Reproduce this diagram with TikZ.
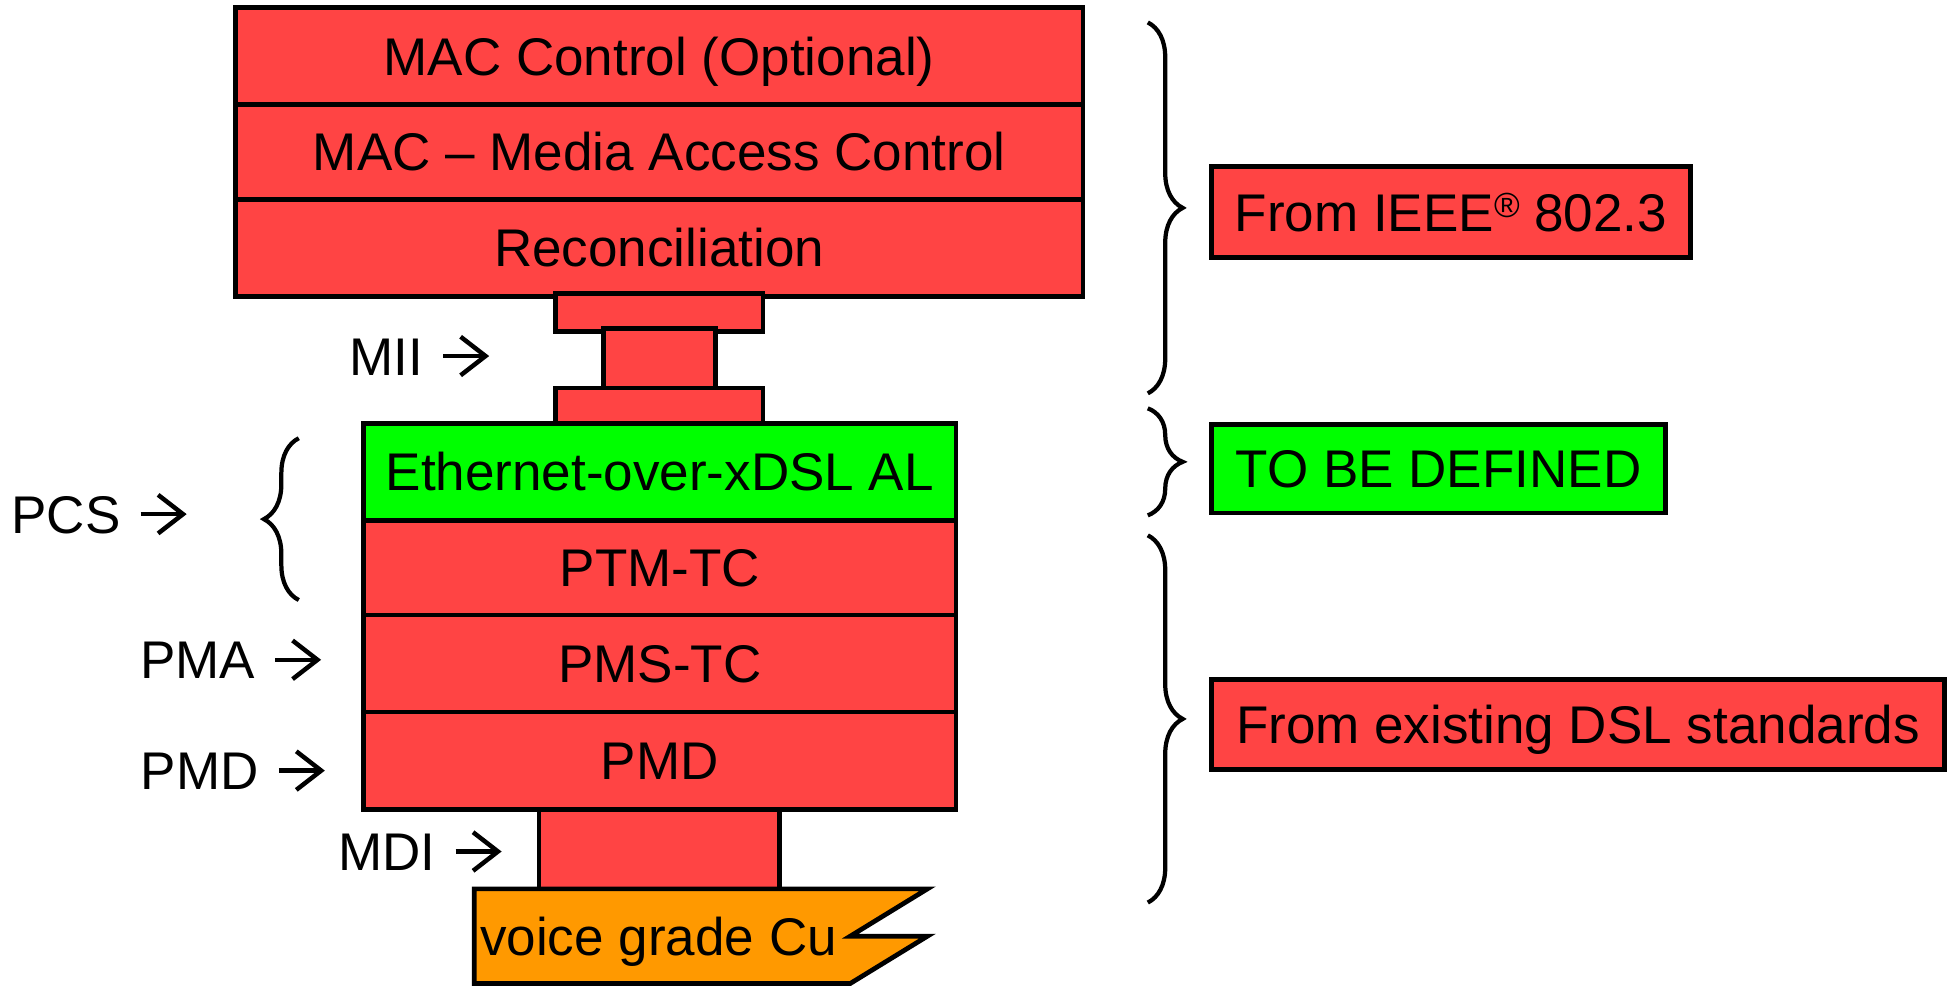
\documentclass[tikz,border=0pt]{standalone}
\usepackage{fontspec}
\setmainfont{Liberation Sans}
\usetikzlibrary{decorations.pathreplacing}
\definecolor{layerred}{RGB}{255,68,68}
\definecolor{layergreen}{RGB}{0,255,0}
\definecolor{copper}{RGB}{255,153,0}

\begin{document}
\begin{tikzpicture}[x=1pt,y=-1pt,
  every node/.style={font=\fontsize{42.6}{50}\selectfont, text height=30.5pt, text depth=0pt, inner sep=0pt},
  layer/.style={draw, line width=3.8pt, fill=layerred},
  newlayer/.style={layer, fill=layergreen},
  tag/.style={anchor=east},
  tagarrow/.style={line width=3.6pt, line cap=butt, line join=miter},
  bracket/.style={decorate, decoration={brace, amplitude=28pt}, line width=3.4pt}]
\useasboundingbox (0,0) rectangle (1568,792);

% IEEE 802.3 upper layers
\node[layer, minimum width=681pt, minimum height=78pt] (macctl) at (529.5,45) {MAC Control (Optional)};
\node[layer, minimum width=681pt, minimum height=76pt] (mac) at (529.5,122) {MAC -- Media Access Control};
\node[layer, minimum width=681pt, minimum height=78pt] (rs) at (529.5,199) {Reconciliation};

% MII connector
\node[layer, minimum width=167pt, minimum height=26pt] (miitop) at (529.5,251) {};
\node[layer, minimum width=90pt, minimum height=50pt] (mii) at (530,289) {};
\node[layer, minimum width=167pt, minimum height=26pt] (miibot) at (529.5,327) {};

% xDSL physical layers
\node[newlayer, minimum width=476pt, minimum height=78pt] (eoa) at (530,379) {Ethernet-over-xDSL AL};
\node[layer, minimum width=476pt, minimum height=76pt] (ptm) at (530,456) {PTM-TC};
\node[layer, minimum width=476pt, minimum height=78pt] (pms) at (530,533) {PMS-TC};
\node[layer, minimum width=476pt, minimum height=78pt] (pmd) at (530,611) {PMD};

% MDI and the copper line
\node[layer, minimum width=193pt, minimum height=64pt] (mdi) at (529.5,682) {};
\draw[fill=copper, line width=3.8pt] (381,714) -- (745,714) -- (683,752) -- (745,752) -- (683,790) -- (381,790) -- cycle;
\node (cu) at (529,752) {voice grade Cu};

% interface labels, each followed by a small arrow
\node[tag] (miilbl) at (340,286) {MII};
\node[tag] (pcslbl) at (97,413) {PCS};
\node[tag] (pmalbl) at (205,530) {PMA};
\node[tag] (pmdlbl) at (208,619) {PMD};
\node[tag] (mdilbl) at (350,684) {MDI};
\foreach \lbl in {miilbl,pcslbl,pmalbl,pmdlbl,mdilbl}{
  \path (\lbl.east) ++(16,0) coordinate (\lbl-a) ++(34,0) coordinate (\lbl-b);
  \draw[tagarrow] (\lbl-a) -- (\lbl-b);
  \draw[tagarrow] (\lbl-b) ++(-20,-15.5) -- (\lbl-b) -- ++(-20,15.5);
}

% PCS brace
\coordinate (pcsA) at (240,482);
\coordinate (pcsB) at (240,352);
\draw[bracket] (pcsA) -- (pcsB);

% origin braces
\coordinate (b1a) at (922,18);
\coordinate (b1b) at (922,316);
\coordinate (b2a) at (922,328);
\coordinate (b2b) at (922,414);
\coordinate (b3a) at (922,430);
\coordinate (b3b) at (922,725);
\draw[bracket] (b1a) -- (b1b);
\draw[bracket] (b2a) -- (b2b);
\draw[bracket] (b3a) -- (b3b);

% origin boxes
\node[layer, minimum width=385pt, minimum height=73pt] (ieee) at (1165.5,170.5) {From IEEE\raisebox{11pt}{\fontsize{28}{28}\selectfont ®} 802.3};
\node[newlayer, minimum width=365pt, minimum height=71pt] (tbd) at (1155.5,376.5) {TO BE DEFINED};
\node[layer, minimum width=589pt, minimum height=72pt] (dsl) at (1267.5,582) {From existing DSL standards};
\end{tikzpicture}
\end{document}
